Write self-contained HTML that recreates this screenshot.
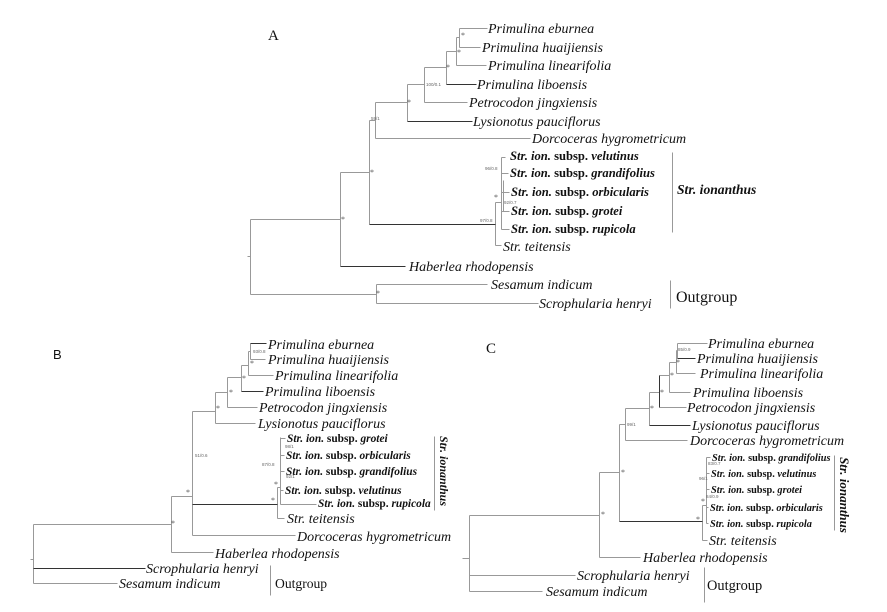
<!DOCTYPE html>
<html><head><meta charset="utf-8"><style>
html,body{margin:0;padding:0;background:#fff;}
svg{display:block;}
.t{font-family:"Liberation Serif",serif;font-style:italic;font-size:14px;fill:#111;}
.b{font-family:"Liberation Serif",serif;font-weight:bold;fill:#111;}
.s{font-family:"Liberation Serif",serif;font-size:8px;fill:#555;text-anchor:middle;}
.n{font-family:"Liberation Sans",sans-serif;font-size:4.5px;fill:#666;}
.g{stroke:#999;stroke-width:1;fill:none;}
.d{stroke:#333;stroke-width:1;fill:none;}
</style></head><body>
<svg width="887" height="612" viewBox="0 0 887 612" xmlns="http://www.w3.org/2000/svg">
<rect width="887" height="612" fill="#fff"/>
<g transform="translate(0.5,0.5)">
<!-- Panel A -->
<path class="g" d="M247 256H250M250 219V294M250 219H340M340 172V266M340 172H369M369 120V224M369 120H375M375 102V138M375 138H530M375 102H407M407 84V121M407 84H424M424 67V102M424 102H467M424 67H446M446 51V84M446 51H456M456 37V65M456 65H486M456 37H459M459 28V47M459 28H487M459 47H480M495 202V245M495 245H501M495 202H501M501 157V229M501 157H505M501 173H508M501 192H509M501 211H509M501 229H509M503 180V211M250 294H376M376 284V303M376 284H487M376 303H538M672 152V232M670 280V308"/>
<path class="d" d="M407 121H472M446 84H476M340 266H405M369 224H495"/>
<!-- Panel B -->
<path class="g" d="M30 559H33M33 524V583M33 524H171M171 496V552M171 552H213M171 496H192M192 411V535M192 535H295M192 411H215M215 392V423M215 423H255M215 392H227M227 377V407M227 407H257M227 377H241M241 365V391M241 365H248M248 351V375M248 375H273M248 351H250M250 343V359M250 359H265M277 487V518M277 518H284M277 487H280M280 437V504M280 504H316M280 438H285M280 455H284M280 471H284M280 490H283M33 583H117M434 436V510M270 565V595"/>
<path class="d" d="M192 504H277M33 568H145M250 343H266M241 391H263"/>
<!-- Panel C -->
<path class="g" d="M462 558H469M469 515V591M469 515H599M599 472V557M599 557H640M599 472H619M619 424V521M619 424H625M625 408V440M625 440H687M625 408H649M649 392V425M649 392H659M659 407H686M659 375H669M669 362V392M669 392H690M669 362H676M676 350V373M676 373H695M676 350H677M677 343V358M677 343H707M702 505V540M702 540H707M702 505H706M706 457V523M706 457H710M706 473H709M706 489H709M706 507H708M706 523H708M469 575H575M469 591H542M834 455V530M704 567V602"/>
<path class="d" d="M649 425H690M677 358H695M619 521H702M659 375V407"/>
</g>

<!-- Panel A text -->
<text x="268" y="40" font-family="Liberation Serif,serif" font-size="15" fill="#111">A</text>
<text class="t" x="488" y="33">Primulina eburnea</text>
<text class="t" x="482" y="52">Primulina huaijiensis</text>
<text class="t" x="488" y="70">Primulina linearifolia</text>
<text class="t" x="477" y="89">Primulina liboensis</text>
<text class="t" x="469" y="107">Petrocodon jingxiensis</text>
<text class="t" x="473" y="126">Lysionotus pauciflorus</text>
<text class="t" x="532" y="143">Dorcoceras hygrometricum</text>
<g class="b" font-size="12.6">
<text x="510" y="160"><tspan font-style="italic">Str. ion.</tspan> subsp. <tspan font-style="italic">velutinus</tspan></text>
<text x="510" y="177"><tspan font-style="italic">Str. ion.</tspan> subsp. <tspan font-style="italic">grandifolius</tspan></text>
<text x="511" y="196"><tspan font-style="italic">Str. ion.</tspan> subsp. <tspan font-style="italic">orbicularis</tspan></text>
<text x="511" y="215"><tspan font-style="italic">Str. ion.</tspan> subsp. <tspan font-style="italic">grotei</tspan></text>
<text x="511" y="233"><tspan font-style="italic">Str. ion.</tspan> subsp. <tspan font-style="italic">rupicola</tspan></text>
</g>
<text class="t" x="503" y="251">Str. teitensis</text>
<text class="t" x="409" y="271">Haberlea rhodopensis</text>
<text class="t" x="491" y="289">Sesamum indicum</text>
<text class="t" x="539" y="308">Scrophularia henryi</text>
<text class="b" x="677" y="194" font-size="13.6" font-style="italic">Str. ionanthus</text>
<text x="676" y="302" font-family="Liberation Serif,serif" font-size="16" fill="#111">Outgroup</text>
<g class="s">
<text x="463" y="38">*</text><text x="459" y="55">*</text><text x="448" y="70">*</text><text x="409" y="105">*</text>
<text x="372" y="175">*</text><text x="343" y="222">*</text><text x="378" y="296">*</text><text x="496" y="200">*</text>
</g>
<g class="n">
<text x="426" y="86">100/0.1</text><text x="371" y="120">59/1</text><text x="480" y="222">97/0.8</text>
<text x="485" y="170">96/0.8</text><text x="504" y="204">92/0.7</text>
</g>

<!-- Panel B text -->
<text x="53" y="359" font-family="Liberation Sans,sans-serif" font-size="13" fill="#111">B</text>
<text class="t" x="268" y="349">Primulina eburnea</text>
<text class="t" x="268" y="364">Primulina huaijiensis</text>
<text class="t" x="275" y="380">Primulina linearifolia</text>
<text class="t" x="265" y="396">Primulina liboensis</text>
<text class="t" x="259" y="412">Petrocodon jingxiensis</text>
<text class="t" x="258" y="428">Lysionotus pauciflorus</text>
<g class="b" font-size="11.4">
<text x="287" y="442"><tspan font-style="italic">Str. ion.</tspan> subsp. <tspan font-style="italic">grotei</tspan></text>
<text x="286" y="459"><tspan font-style="italic">Str. ion.</tspan> subsp. <tspan font-style="italic">orbicularis</tspan></text>
<text x="286" y="475"><tspan font-style="italic">Str. ion.</tspan> subsp. <tspan font-style="italic">grandifolius</tspan></text>
<text x="285" y="494"><tspan font-style="italic">Str. ion.</tspan> subsp. <tspan font-style="italic">velutinus</tspan></text>
<text x="318" y="507"><tspan font-style="italic">Str. ion.</tspan> subsp. <tspan font-style="italic">rupicola</tspan></text>
</g>
<text class="t" x="287" y="523">Str. teitensis</text>
<text class="t" x="297" y="541">Dorcoceras hygrometricum</text>
<text class="t" x="215" y="558">Haberlea rhodopensis</text>
<text class="t" x="146" y="573">Scrophularia henryi</text>
<text class="t" x="119" y="588">Sesamum indicum</text>
<text x="275" y="588" font-family="Liberation Serif,serif" font-size="13.6" fill="#111">Outgroup</text>
<text class="b" font-size="12" font-style="italic" text-anchor="middle" transform="translate(440,471) rotate(90)">Str. ionanthus</text>
<g class="s">
<text x="252" y="366">*</text><text x="244" y="381">*</text><text x="231" y="395">*</text><text x="218" y="411">*</text>
<text x="188" y="495">*</text><text x="173" y="526">*</text><text x="276" y="487">*</text><text x="273" y="503">*</text>
</g>
<g class="n">
<text x="253" y="353">93/0.8</text><text x="195" y="457">51/0.6</text><text x="262" y="466">87/0.8</text>
<text x="285" y="448">98/1</text><text x="286" y="478">92/1</text>
</g>

<!-- Panel C text -->
<text x="486" y="353" font-family="Liberation Serif,serif" font-size="15" fill="#111">C</text>
<text class="t" x="708" y="348">Primulina eburnea</text>
<text class="t" x="697" y="363">Primulina huaijiensis</text>
<text class="t" x="700" y="378">Primulina linearifolia</text>
<text class="t" x="693" y="397">Primulina liboensis</text>
<text class="t" x="687" y="412">Petrocodon jingxiensis</text>
<text class="t" x="692" y="430">Lysionotus pauciflorus</text>
<text class="t" x="690" y="445">Dorcoceras hygrometricum</text>
<g class="b" font-size="10.3">
<text x="712" y="461"><tspan font-style="italic">Str. ion.</tspan> subsp. <tspan font-style="italic">grandifolius</tspan></text>
<text x="711" y="477"><tspan font-style="italic">Str. ion.</tspan> subsp. <tspan font-style="italic">velutinus</tspan></text>
<text x="711" y="493"><tspan font-style="italic">Str. ion.</tspan> subsp. <tspan font-style="italic">grotei</tspan></text>
<text x="710" y="511"><tspan font-style="italic">Str. ion.</tspan> subsp. <tspan font-style="italic">orbicularis</tspan></text>
<text x="710" y="527"><tspan font-style="italic">Str. ion.</tspan> subsp. <tspan font-style="italic">rupicola</tspan></text>
</g>
<text class="t" x="709" y="545">Str. teitensis</text>
<text class="t" x="643" y="562">Haberlea rhodopensis</text>
<text class="t" x="577" y="580">Scrophularia henryi</text>
<text class="t" x="546" y="596">Sesamum indicum</text>
<text x="707" y="590" font-family="Liberation Serif,serif" font-size="14.4" fill="#111">Outgroup</text>
<text class="b" font-size="13" font-style="italic" text-anchor="middle" transform="translate(840,495) rotate(90)">Str. ionanthus</text>
<g class="s">
<text x="678" y="365">*</text><text x="672" y="378">*</text><text x="662" y="395">*</text><text x="652" y="411">*</text>
<text x="623" y="475">*</text><text x="603" y="517">*</text><text x="698" y="522">*</text><text x="703" y="504">*</text>
</g>
<g class="n">
<text x="678" y="351">85/0.9</text><text x="627" y="426">99/1</text><text x="708" y="465">83/0.7</text>
<text x="699" y="480">96/1</text><text x="706" y="498">84/0.9</text>
</g>
</svg>
</body></html>
